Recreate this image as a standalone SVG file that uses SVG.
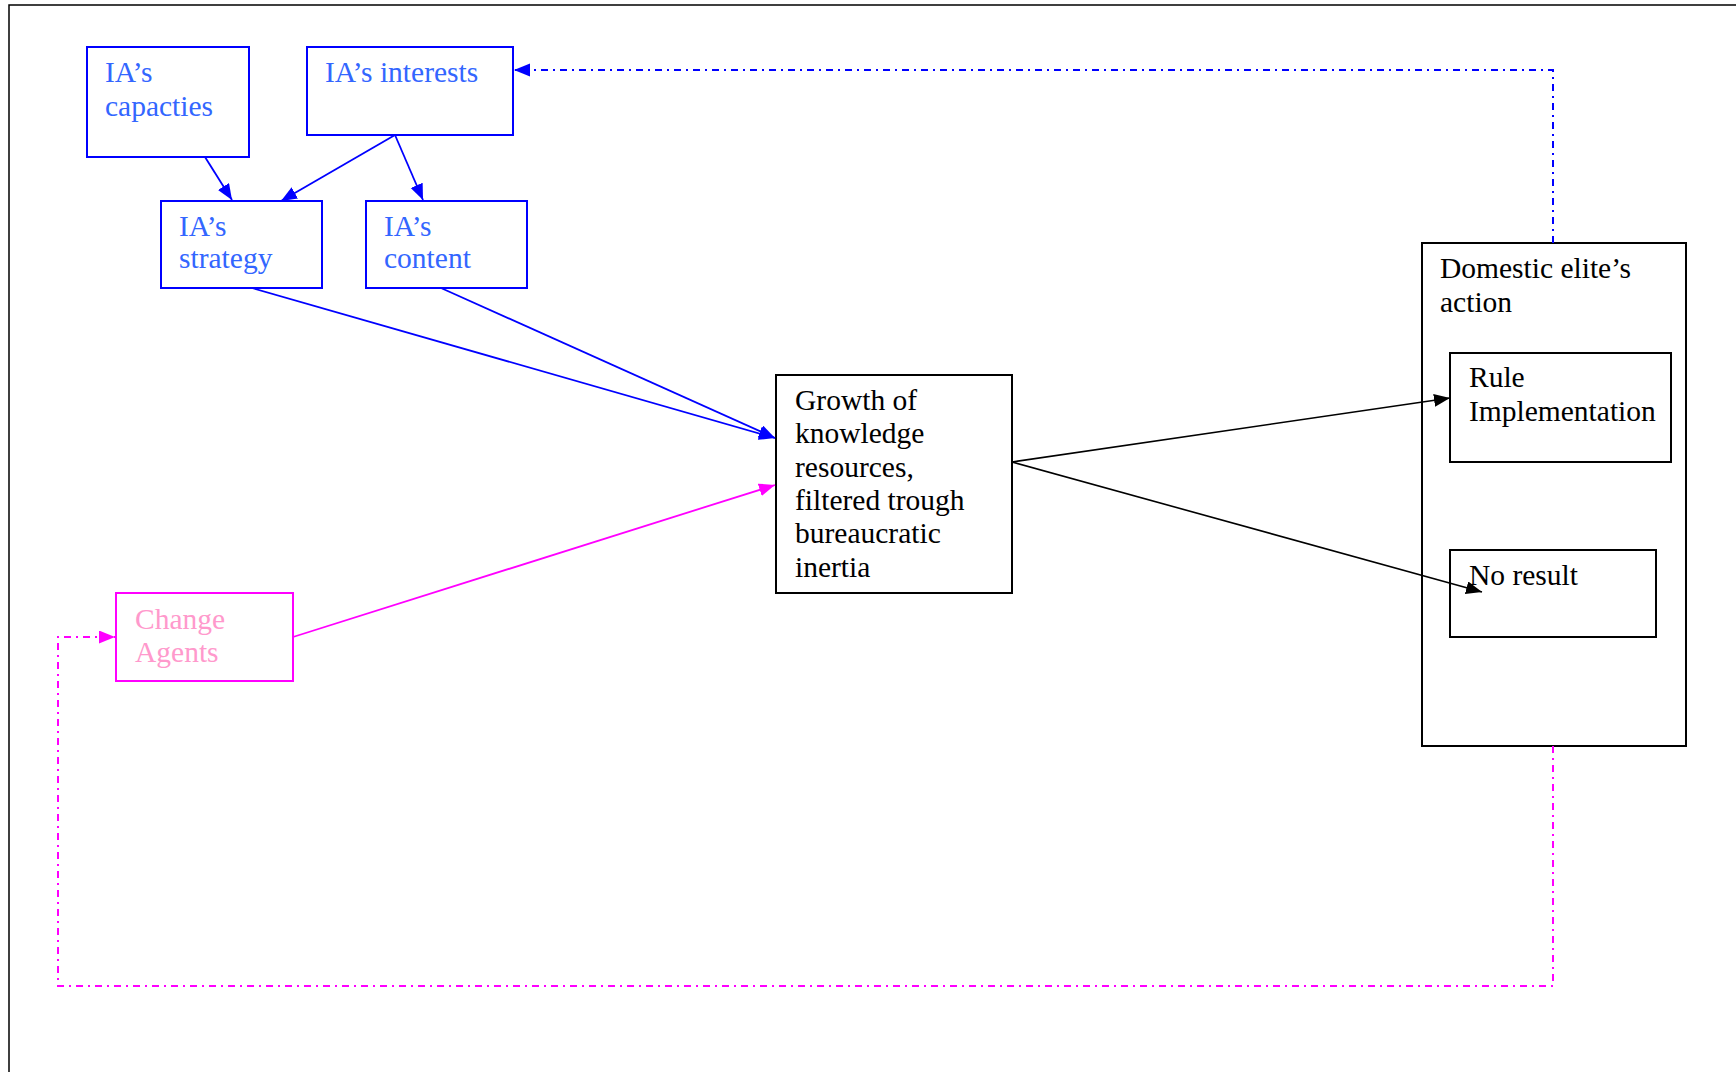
<svg xmlns="http://www.w3.org/2000/svg" width="1736" height="1072" viewBox="0 0 1736 1072">
<style>
text{font-family:"Liberation Serif","Times New Roman",serif;font-size:29.5px}
.bb{fill:#fff;stroke:#0000ff;stroke-width:2}
.kb{fill:#fff;stroke:#000;stroke-width:2}
.mb{fill:#fff;stroke:#ff00ff;stroke-width:2}
.bt{fill:#3366ff}
.kt{fill:#000}
.pt{fill:#ff99cc}
.cb{stroke:#0000ff;stroke-width:1.8;fill:none}
.ck{stroke:#000;stroke-width:1.6;fill:none}
.cm{stroke:#ff00ff;stroke-width:1.8;fill:none}
.dash{stroke-dasharray:7 5 2 5;stroke-width:2}
</style>
<defs>
<marker id="ab" markerUnits="userSpaceOnUse" markerWidth="18" markerHeight="14" refX="16" refY="6.5" orient="auto"><path d="M0,0 L16,6.5 L0,13 z" fill="#0000ff"/></marker>
<marker id="ak" markerUnits="userSpaceOnUse" markerWidth="18" markerHeight="14" refX="16" refY="6.5" orient="auto"><path d="M0,0 L16,6.5 L0,13 z" fill="#000"/></marker>
<marker id="am" markerUnits="userSpaceOnUse" markerWidth="18" markerHeight="14" refX="16" refY="6.5" orient="auto"><path d="M0,0 L16,6.5 L0,13 z" fill="#ff00ff"/></marker>
</defs>
<path d="M9,1072 V5 H1736" fill="none" stroke="#000" stroke-width="1.5"/>
<g id="capacities"><rect class="bb" x="87" y="47" width="162" height="110"/><text class="bt" x="105" y="82">IA’s</text><text class="bt" x="105" y="116">capacties</text></g>
<g id="interests"><rect class="bb" x="307" y="47" width="206" height="88"/><text class="bt" x="325" y="82">IA’s interests</text></g>
<g id="strategy"><rect class="bb" x="161" y="201" width="161" height="87"/><text class="bt" x="179" y="236">IA’s</text><text class="bt" x="179" y="268">strategy</text></g>
<g id="content"><rect class="bb" x="366" y="201" width="161" height="87"/><text class="bt" x="384" y="236">IA’s</text><text class="bt" x="384" y="268">content</text></g>
<g id="growth"><rect class="kb" x="776" y="375" width="236" height="218"/><text class="kt" x="795" y="410">Growth of</text><text class="kt" x="795" y="443">knowledge</text><text class="kt" x="795" y="477">resources,</text><text class="kt" x="795" y="510">filtered trough</text><text class="kt" x="795" y="543">bureaucratic</text><text class="kt" x="795" y="577">inertia</text></g>
<g id="change-agents"><rect class="mb" x="116" y="593" width="177" height="88"/><text class="pt" x="135" y="629">Change</text><text class="pt" x="135" y="662">Agents</text></g>
<g id="domestic"><rect class="kb" x="1422" y="243" width="264" height="503"/><text class="kt" x="1440" y="278">Domestic elite’s</text><text class="kt" x="1440" y="312">action</text></g>
<g id="rule"><rect class="kb" x="1450" y="353" width="221" height="109"/><text class="kt" x="1469" y="387">Rule</text><text class="kt" x="1469" y="421">Implementation</text></g>
<g id="noresult"><rect class="kb" x="1450" y="550" width="206" height="87"/><text class="kt" x="1469" y="585">No result</text></g>
<g id="connectors">
<line class="cb" x1="205" y1="157" x2="232" y2="200" marker-end="url(#ab)"/>
<line class="cb" x1="395" y1="135" x2="281" y2="201" marker-end="url(#ab)"/>
<line class="cb" x1="395" y1="135" x2="423" y2="200" marker-end="url(#ab)"/>
<line class="cb" x1="252" y1="288" x2="775" y2="438" marker-end="url(#ab)"/>
<line class="cb" x1="441" y1="288" x2="775" y2="438" marker-end="url(#ab)"/>
<line class="cm" x1="293" y1="637" x2="775" y2="485" marker-end="url(#am)"/>
<line class="ck" x1="1012" y1="462" x2="1450" y2="398" marker-end="url(#ak)"/>
<line class="ck" x1="1012" y1="462" x2="1482" y2="592" marker-end="url(#ak)"/>
<path class="cb dash" d="M1553,243 V70 H514" marker-end="url(#ab)"/>
<path class="cm dash" d="M1553,746 V986 H58 V637 H115" marker-end="url(#am)"/>
</g>
</svg>
